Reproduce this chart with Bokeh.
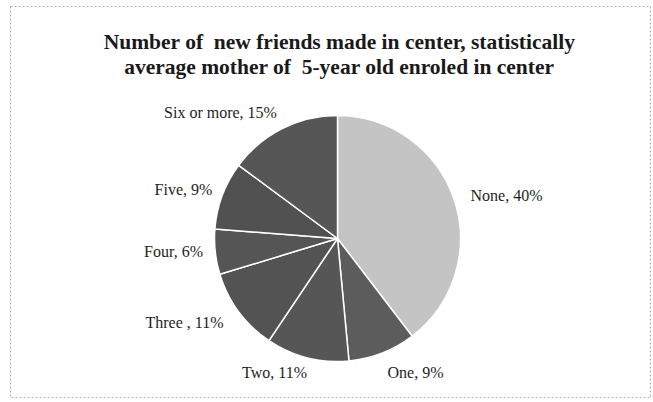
import math
from bokeh.plotting import figure
from bokeh.models import Range1d, Label
from bokeh.embed import file_html
from bokeh.resources import INLINE

# ---- data ----
categories = ["None", "One", "Two", "Three ", "Four", "Five", "Six or more"]
percents = [40, 9, 11, 11, 6, 9, 15]
title_lines = ["Number of  new friends made in center, statistically",
               "average mother of  5-year old enroled in center"]

# ---- styles / layout ----
colors = ["#c4c4c4", "#5c5c5c", "#565656", "#535353", "#555555", "#515151", "#565656"]
label_pos = [(506, 195), (415, 372), (274, 372), (184, 322), (173, 251), (183, 189), (220, 112)]
W, H = 653, 402
cx, cy, R = 337, H - 238, 123

p = figure(width=W, height=H, output_backend="svg", toolbar_location=None,
           x_range=Range1d(0, W), y_range=Range1d(0, H), min_border=0)
p.axis.visible = False
p.grid.visible = False
p.outline_line_color = None
p.background_fill_color = "white"
p.border_fill_color = "white"

# dotted frame around the chart area
p.quad(left=[10], right=[650], bottom=[H - 397], top=[H - 6], fill_color=None,
       line_color="#b0b0b0", line_dash="2 2", line_width=1)

total = sum(percents)
cum = 0.0
starts, ends = [], []
for v in percents:
    a0 = math.pi / 2 - 2 * math.pi * cum / total
    cum += v
    a1 = math.pi / 2 - 2 * math.pi * cum / total
    starts.append(a0)
    ends.append(a1)

p.wedge(x=[cx] * len(percents), y=[cy] * len(percents), radius=R, radius_units="screen",
        start_angle=starts, end_angle=ends, direction="clock",
        fill_color=colors, line_color="white", line_width=1.5)

for (lx, ly), name, v in zip(label_pos, categories, percents):
    p.add_layout(Label(x=lx, y=H - ly, text=f"{name}, {v}%", text_align="center",
                       text_baseline="middle", text_font="Liberation Serif",
                       text_font_size="16px", text_color="#1e1e1e"))

for t, by in zip(title_lines, [41, 66]):
    p.add_layout(Label(x=339, y=H - by, text=t.replace("  ", " \u00a0"), text_align="center",
                       text_baseline="alphabetic", text_font="Liberation Serif",
                       text_font_size="21.5px", text_font_style="bold", text_color="#1a1a1a"))

open("out.html", "w").write(file_html(p, INLINE))
